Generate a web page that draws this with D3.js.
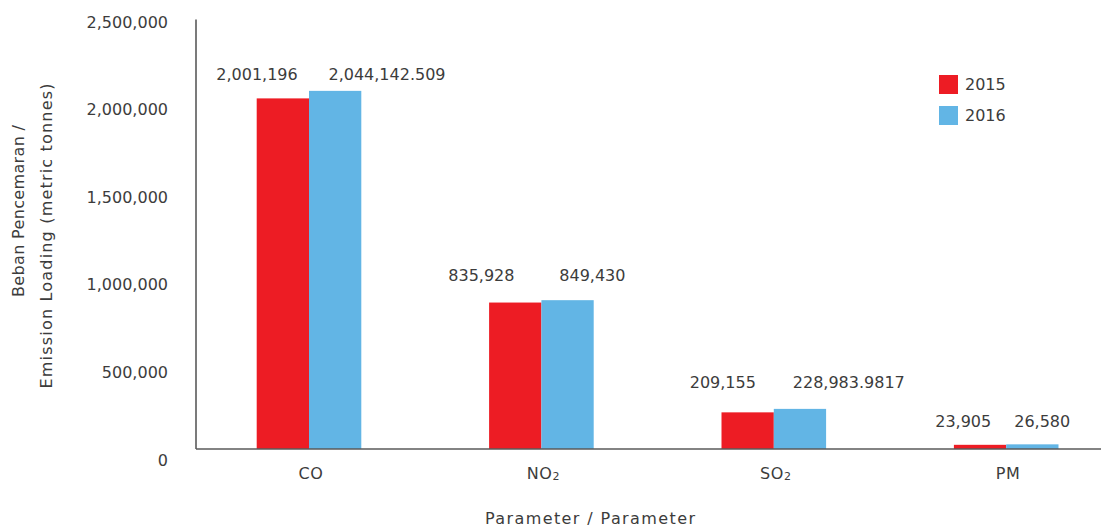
<!DOCTYPE html>
<html>
<head>
<meta charset="utf-8">
<script src="https://cdn.jsdelivr.net/npm/d3@7/dist/d3.min.js"></script>
<style>
  html, body { margin: 0; padding: 0; background: #fff; }
  svg { display: block; }
  text { font-family: "DejaVu Sans", sans-serif; fill: #3c3c3c; }
</style>
</head>
<body>
<svg id="chart" width="1101" height="526"></svg>
<script>
// ---- data ----
const categories = ["CO", "NO2", "SO2", "PM"];
const categoryMain = ["CO", "NO", "SO", "PM"];
const categorySub = ["", "2", "2", ""];
const series = ["2015", "2016"];
const values2015 = [2001196, 835928, 209155, 23905];
const values2016 = [2044142.509, 849430, 228983.9817, 26580];
const labels2015 = ["2,001,196", "835,928", "209,155", "23,905"];
const labels2016 = ["2,044,142.509", "849,430", "228,983.9817", "26,580"];
const yTicks = [0, 500000, 1000000, 1500000, 2000000, 2500000];
const colors = ["#ED1C24", "#62B5E5"];

// ---- layout (not data) ----
const labelDx = [[-52, 78], [-60, 51], [-51, 75], [-43, 36]];
const labelDy = [-16, -25, -26, -23];

const svg = d3.select("#chart");
const x0 = 196, yBase = 449;

const y = d3.scaleLinear().domain([0, 2500000]).range([yBase, 11]);
const x = d3.scaleBand().domain(categories).range([192.8, 1122.4]).paddingInner(0).paddingOuter(0);
const xs = d3.scaleBand().domain(series).range([-52.3, 52.3]);

const valuesBySeries = [values2015, values2016];

// bars
const g = svg.append("g");
categories.forEach((c, i) => {
  const cx = x(c) + x.bandwidth() / 2;
  series.forEach((s, j) => {
    const v = valuesBySeries[j][i];
    g.append("rect")
      .attr("x", cx + xs(s))
      .attr("y", y(v))
      .attr("width", xs.bandwidth())
      .attr("height", yBase - y(v))
      .attr("fill", colors[j]);
  });
});

// axes lines
svg.append("line").attr("x1", x0).attr("x2", x0).attr("y1", 19.5).attr("y2", yBase)
  .attr("stroke", "#5a5a5a").attr("stroke-width", 1.6);
svg.append("line").attr("x1", x0).attr("x2", 1101).attr("y1", yBase).attr("y2", yBase)
  .attr("stroke", "#5a5a5a").attr("stroke-width", 1.6);

// y tick labels
const fmt = d3.format(",");
svg.append("g").selectAll("text").data(yTicks).join("text")
  .attr("x", 168).attr("y", d => y(d) + 11)
  .attr("text-anchor", "end").attr("dominant-baseline", "central")
  .attr("font-size", 16)
  .text(d => fmt(d));

// category labels
categories.forEach((c, i) => {
  const cx = x(c) + x.bandwidth() / 2;
  const t = svg.append("text").attr("x", cx + 2).attr("y", 473)
    .attr("text-anchor", "middle").attr("dominant-baseline", "central")
    .attr("font-size", 16).attr("letter-spacing", 0.6);
  t.append("tspan").text(categoryMain[i]);
  if (categorySub[i]) t.append("tspan").attr("font-size", 11).attr("dy", 3).text(categorySub[i]);
});

// value labels
categories.forEach((c, i) => {
  const cx = x(c) + x.bandwidth() / 2;
  const top = y(Math.max(values2015[i], values2016[i]));
  [labels2015, labels2016].forEach((lab, j) => {
    svg.append("text")
      .attr("x", cx + labelDx[i][j]).attr("y", top + labelDy[i])
      .attr("text-anchor", "middle").attr("dominant-baseline", "central")
      .attr("font-size", 16)
      .text(lab[i]);
  });
});

// legend
series.forEach((s, j) => {
  svg.append("rect").attr("x", 939).attr("y", 75 + j * 31).attr("width", 19).attr("height", 19)
    .attr("fill", colors[j]);
  svg.append("text").attr("x", 965).attr("y", 84.5 + j * 31)
    .attr("dominant-baseline", "central").attr("font-size", 16).text(s);
});

// axis titles
svg.append("text").attr("x", 590).attr("y", 518)
  .attr("text-anchor", "middle").attr("dominant-baseline", "central")
  .attr("font-size", 16).attr("textLength", 210).attr("lengthAdjust", "spacing")
  .text("Parameter / Parameter");

svg.append("text").attr("transform", "translate(18,211) rotate(-90)")
  .attr("text-anchor", "middle").attr("dominant-baseline", "central")
  .attr("font-size", 16).attr("textLength", 172).attr("lengthAdjust", "spacing")
  .text("Beban Pencemaran /");
svg.append("text").attr("transform", "translate(46,236) rotate(-90)")
  .attr("text-anchor", "middle").attr("dominant-baseline", "central")
  .attr("font-size", 16).attr("textLength", 305).attr("lengthAdjust", "spacing")
  .text("Emission Loading (metric tonnes)");
</script>
</body>
</html>
